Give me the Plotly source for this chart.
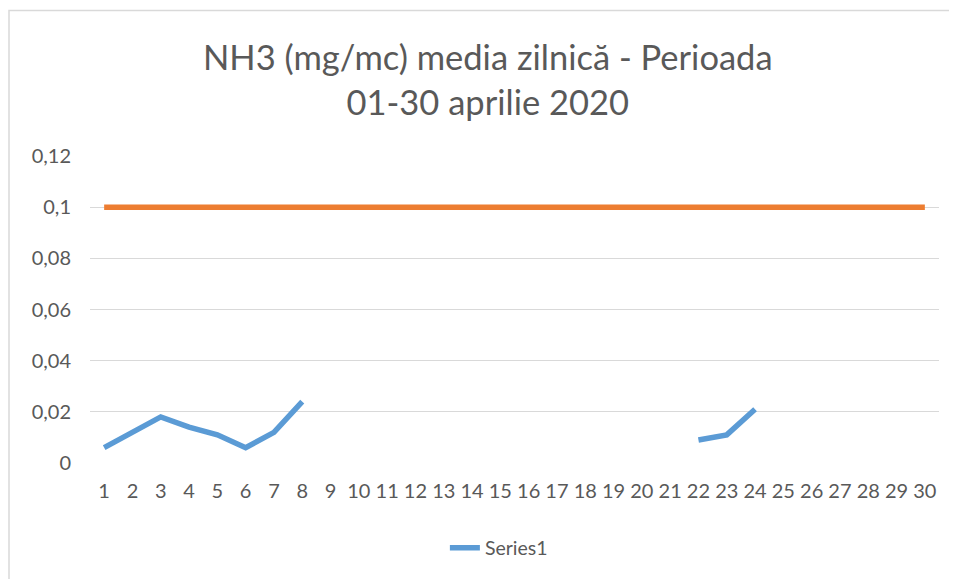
import plotly.graph_objects as go

days = list(range(1, 31))
series1 = [0.006, 0.012, 0.018, 0.014, 0.011, 0.006, 0.012, 0.024,
           None, None, None, None, None, None, None, None, None, None, None, None, None,
           0.009, 0.011, 0.021,
           None, None, None, None, None, None]
limit = [0.1] * 30
y_ticks = [0, 0.02, 0.04, 0.06, 0.08, 0.1, 0.12]
y_tick_labels = ["0", "0,02", "0,04", "0,06", "0,08", "0,1", "0,12"]
title_text = "NH3 (mg/mc) media zilnică - Perioada<br>01-30 aprilie 2020"

FONT = "Lato, Calibri, sans-serif"
TXT = "#595959"

fig = go.Figure()
fig.add_trace(go.Scatter(x=days, y=series1, mode="lines", name="Series1",
                         line=dict(color="#5B9BD5", width=5.5), connectgaps=False))
fig.add_trace(go.Scatter(x=days, y=limit, mode="lines", name="Limit", showlegend=False,
                         line=dict(color="#ED7D31", width=5.5)))

fig.update_layout(
    width=949, height=571,
    margin=dict(l=82, r=18, t=148, b=116),
    paper_bgcolor="white", plot_bgcolor="white",
    separators=",.",
    font=dict(family=FONT, color=TXT, size=20),
    showlegend=True,
    legend=dict(orientation="h", x=0.418, xanchor="left", y=-0.277, yanchor="middle",
                font=dict(size=19.5, color=TXT), bgcolor="rgba(0,0,0,0)"),
    xaxis=dict(range=[0.5, 30.5], tickmode="array", tickvals=days,
               ticktext=[str(d) for d in days], showgrid=False, zeroline=False,
               showline=False, ticks="", ticklabelstandoff=14,
               tickfont=dict(size=20, color=TXT)),
    yaxis=dict(range=[0, 0.12], tickmode="array", tickvals=y_ticks, ticktext=y_tick_labels,
               showgrid=True, gridcolor="#D9D9D9", gridwidth=1.3, zeroline=False,
               showline=False, ticks="", ticklabelstandoff=18,
               tickfont=dict(size=20, color=TXT)),
    annotations=[dict(text=title_text, xref="paper", yref="paper",
                      x=(488 - 90) / 849, y=(463 - 79) / 307, xanchor="center", yanchor="middle",
                      showarrow=False, font=dict(size=34.5, color=TXT, family=FONT))],
    shapes=[dict(type="rect", xref="paper", yref="paper",
                 x0=(9 - 90) / 849, x1=(1000 - 90) / 849,
                 y0=(463 - 620) / 307, y1=(463 - 10.5) / 307,
                 line=dict(color="#D9D9D9", width=1.5), fillcolor="rgba(0,0,0,0)", layer="below")],
)

fig.write_html("out.html")
